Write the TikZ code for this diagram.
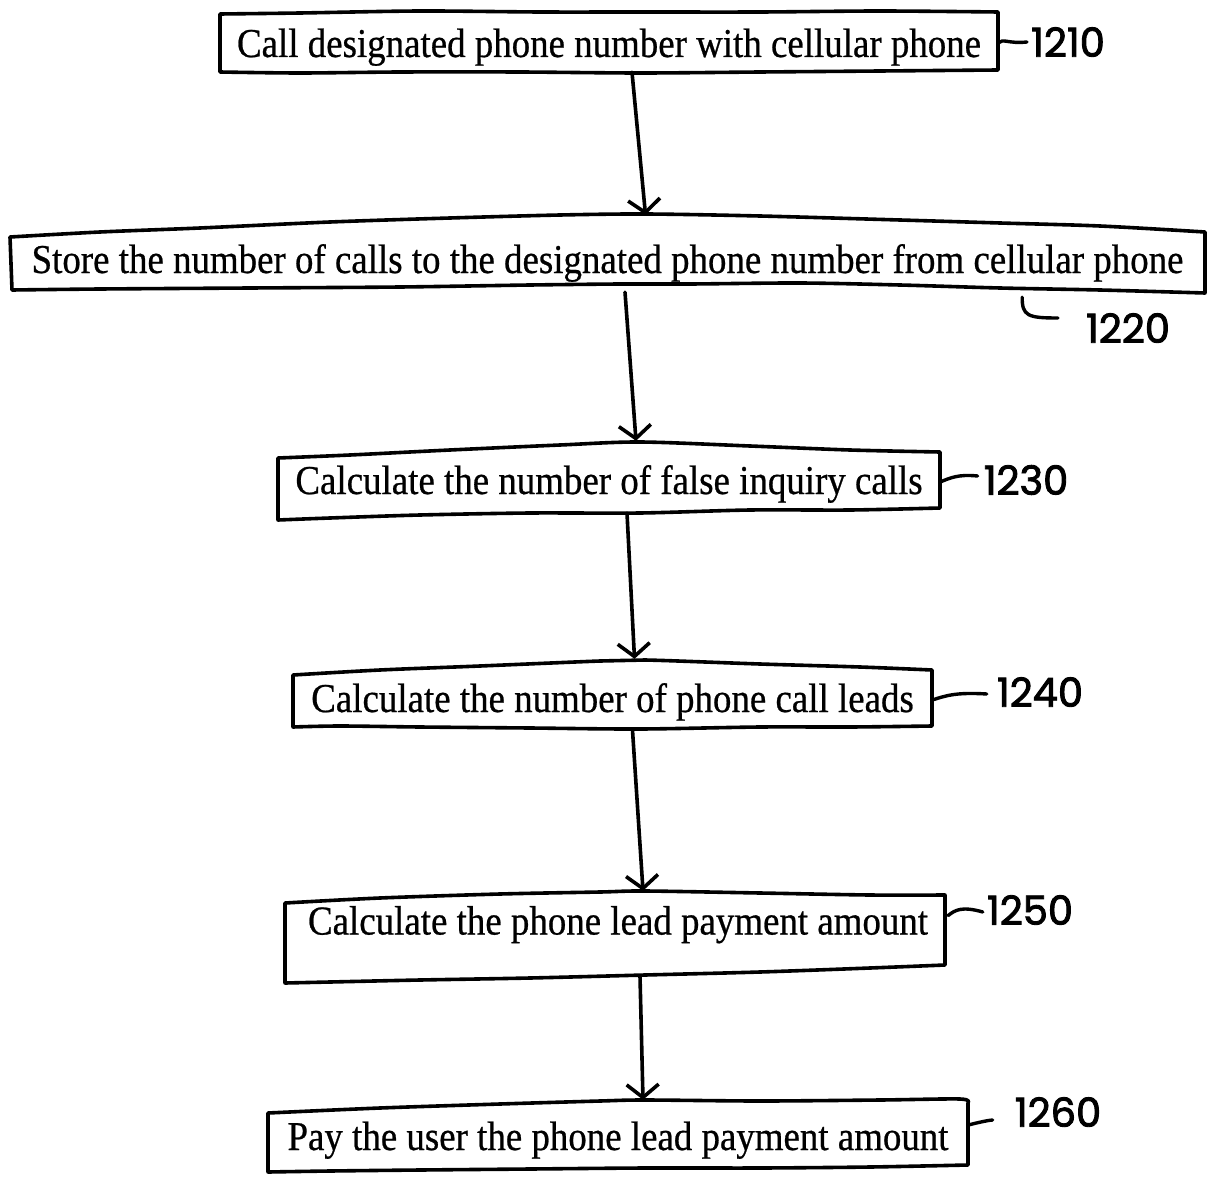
\documentclass[tikz,border=0pt]{standalone}
\usepackage{fontspec}
\setmainfont{Liberation Serif}[FakeStretch=0.9, FakeBold=0.6]
\newfontfamily\hand{Poppins}[FakeBold=2.2]
\usetikzlibrary{arrows.meta,calc}

\tikzset{
  stepnode/.style={draw=none, inner sep=0pt, text depth=10pt,
    font=\fontsize{41}{46}\selectfont},
  frame/.style={line width=3.6pt, line join=round, line cap=round},
  flow/.style={line width=3.6pt, line cap=round,
    -{Straight Barb[length=13pt,width=32pt,line width=3.6pt]}},
  lead/.style={line width=3.4pt, line cap=round},
  tag/.style={inner sep=0pt, font=\hand\fontsize{40}{42}\selectfont}
}

\begin{document}
\begin{tikzpicture}[x=1pt,y=-1pt]
\useasboundingbox (0,0) rectangle (1210,1177);

% step boxes (text nodes sized to their outlines)
\node[stepnode, minimum width=778, minimum height=60, text height=40pt] (s1) at (609,42)
  {Call designated phone number with cellular phone};
\node[stepnode, minimum width=1195, minimum height=79, text height=51pt] (s2) at (607.5,252.5)
  {Store the number of calls to the designated phone number from cellular phone};
\node[stepnode, minimum width=662, minimum height=80, text height=38pt] (s3) at (609,480)
  {Calculate the number of false inquiry calls};
\node[stepnode, minimum width=639, minimum height=70, text height=44pt] (s4) at (612.5,695)
  {Calculate the number of phone call leads};
\node[stepnode, minimum width=660, minimum height=93, text depth=40pt, text height=36pt] (s5) at (618,936.5)
  {Calculate the phone lead payment amount};
\node[stepnode, minimum width=700, minimum height=72, text height=38pt] (s6) at (618,1136)
  {Pay the user the phone lead payment amount};

% hand-drawn outlines
\draw[frame] plot[smooth, tension=0.5] coordinates {(220,14) (300,13) (420,11) (540,12) (640,12) (760,12) (880,11) (998,12)}
  -- plot[smooth, tension=0.5] coordinates {(998,70) (880,71) (760,72) (640,73) (520,72) (400,72) (300,73) (220,72)} -- cycle;
\draw[frame] plot[smooth, tension=0.5] coordinates {(10,237) (100,232) (200,228) (330,222) (450,218) (560,215) (646,214) (760,216) (900,220) (1000,223) (1100,226) (1205,232)}
  -- plot[smooth, tension=0.5] coordinates {(1205,293) (1100,290) (1000,288) (900,285) (800,283) (690,284) (620,284) (530,285) (400,287) (250,288) (100,289) (12,290)} -- cycle;
\draw[frame] plot[smooth, tension=0.5] coordinates {(278,458) (350,455) (450,450) (560,445) (640,442) (750,446) (850,450) (940,452)}
  -- plot[smooth, tension=0.5] coordinates {(940,508) (850,510) (750,510) (640,513) (530,513) (420,515) (330,518) (278,520)} -- cycle;
\draw[frame] plot[smooth, tension=0.5] coordinates {(293,675) (380,670) (480,666) (600,661) (645,660) (760,664) (860,667) (932,670)}
  -- plot[smooth, tension=0.5] coordinates {(932,726) (850,727) (760,727) (640,729) (530,728) (420,727) (340,726) (293,727)} -- cycle;
\draw[frame] plot[smooth, tension=0.5] coordinates {(285,903) (380,898) (500,894) (600,892) (645,891) (760,893) (870,895) (945,895)}
  -- plot[smooth, tension=0.5] coordinates {(945,965) (870,968) (760,972) (645,975) (530,978) (420,980) (330,982) (285,983)} -- cycle;
\draw[frame] plot[smooth, tension=0.5] coordinates {(268,1113) (380,1108) (500,1104) (600,1101) (645,1100) (760,1101) (880,1100) (960,1099) (968,1103)}
  -- plot[smooth, tension=0.5] coordinates {(968,1165) (870,1167) (760,1168) (645,1168) (530,1169) (420,1170) (330,1171) (268,1172)} -- cycle;

% flow arrows
\draw[flow] ([xshift=23pt]s1.south) -- ([xshift=38pt,yshift=-2pt]s2.north);
\draw[flow] ([xshift=17.5pt]s2.south) -- ([xshift=27pt,yshift=-1pt]s3.north);
\draw[flow] ([xshift=18pt,yshift=7pt]s3.south) -- ([xshift=22pt,yshift=1pt]s4.north);
\draw[flow] ([xshift=20pt]s4.south) -- ([xshift=25pt,yshift=-1pt]s5.north);
\draw[flow] ([xshift=22pt,yshift=7pt]s5.south) -- ([xshift=25pt]s6.north);

% reference numerals
\node[tag] (l1) at (1068,42) {1210};
\node[tag] (l2) at (1128,328) {1220};
\node[tag] (l3) at (1026,480) {1230};
\node[tag] (l4) at (1040,692) {1240};
\node[tag] (l5) at (1030,910) {1250};
\node[tag] (l6) at (1058,1112) {1260};

% leader strokes
\draw[lead] ([yshift=-1pt]s1.east) .. controls (1003,38) and (1008,44) .. ([xshift=-4pt]l1.west);
\draw[lead] ($(s2.south east)+(-183,5)$) .. controls (1022,316) and (1028,318) .. ($(l2.west)+(-28,-10)$);
\draw[lead] ([yshift=-2pt]s3.east) .. controls (950,478) and (958,474) .. ([xshift=-6pt,yshift=4pt]l3.west);
\draw[lead] ([yshift=-5pt]s4.east) .. controls (945,696) and (955,692) .. ([xshift=-10pt,yshift=-2pt]l4.west);
\draw[lead] ([yshift=21pt]s5.east) .. controls (955,910) and (962,906) .. ([xshift=-4pt,yshift=-2pt]l5.west);
\draw[lead] ([yshift=11pt]s6.east) .. controls (980,1122) and (990,1120) .. ([xshift=-22pt,yshift=-8pt]l6.west);
\end{tikzpicture}
\end{document}
